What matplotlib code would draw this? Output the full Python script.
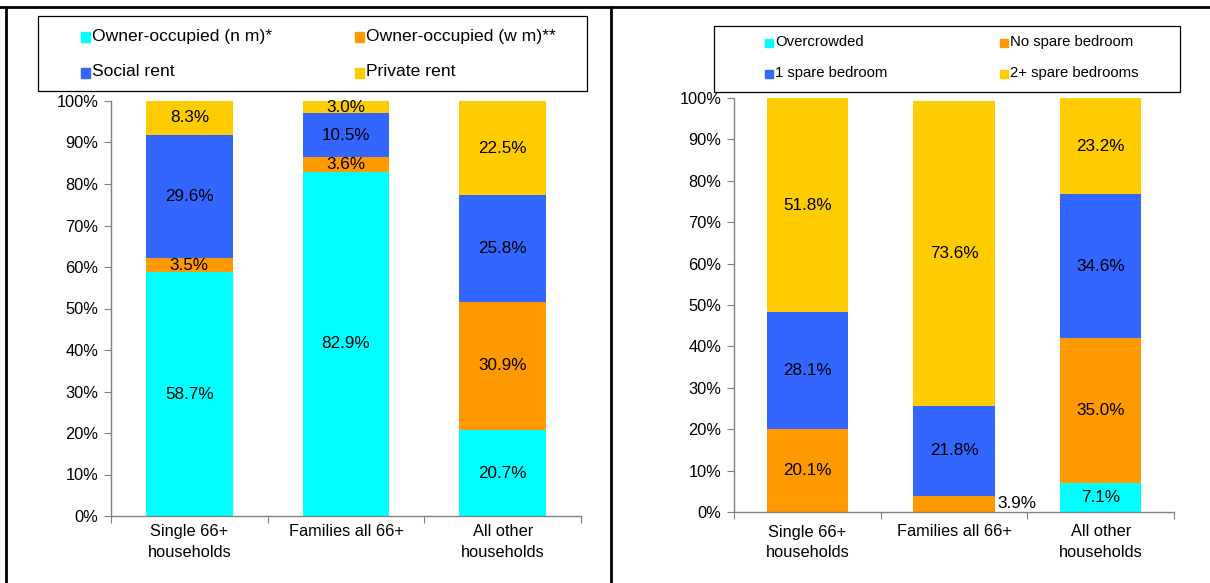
import matplotlib.pyplot as plt
import numpy as np
from matplotlib.patches import Rectangle
from matplotlib.lines import Line2D

plt.rcParams['font.family'] = ['Liberation Sans', 'DejaVu Sans']

# data
categories = ['Single 66+\nhouseholds', 'Families all 66+', 'All other\nhouseholds']

tenure_labels = ['Owner-occupied (n m)*', 'Owner-occupied (w m)**', 'Social rent', 'Private rent']
owner_nm = [58.7, 82.9, 20.7]
owner_wm = [3.5, 3.6, 30.9]
social_rent = [29.6, 10.5, 25.8]
private_rent = [8.3, 3.0, 22.5]

bedroom_labels = ['Overcrowded', 'No spare bedroom', '1 spare bedroom', '2+ spare bedrooms']
overcrowded = [0.0, 0.0, 7.1]
no_spare = [20.1, 3.9, 35.0]
one_spare = [28.1, 21.8, 34.6]
two_plus = [51.8, 73.6, 23.2]

colors = ['#00FFFF', '#FF9900', '#3366FF', '#FFCC00']

W, H = 1210, 583
fig = plt.figure(figsize=(W / 100, H / 100), dpi=100)


def fx(px):
    return px / W


def fy(py):
    return 1 - py / H


def stacked(ax, series, outside=None, xpad=6):
    x = np.arange(len(categories))
    bottom = np.zeros(len(categories))
    for vals, c in zip(series, colors):
        vals = np.array(vals)
        ax.bar(x, vals, 0.555, bottom=bottom, color=c, zorder=2)
        for i, v in enumerate(vals):
            if v <= 0:
                continue
            y = bottom[i] + v / 2
            if outside is not None and (i, v) == outside:
                ax.text(x[i] + 0.555 / 2 + 0.02, y, f'{v:.1f}%', ha='left', va='center', fontsize=12.3)
            else:
                ax.text(x[i], y, f'{v:.1f}%', ha='center', va='center', fontsize=12.3)
        bottom += vals
    ax.set_xlim(-0.5, 2.5)
    ax.set_ylim(0, 100)
    ax.set_yticks(np.arange(0, 101, 10))
    ax.set_yticklabels([f'{t}%' for t in range(0, 101, 10)], fontsize=11.8)
    ax.set_xticks([-0.5, 0.5, 1.5, 2.5])
    ax.set_xticklabels([])
    ax.set_xticks(x, minor=True)
    ax.set_xticklabels(categories, minor=True, fontsize=11.8, linespacing=1.45)
    ax.tick_params(axis='x', which='minor', length=0, pad=xpad)
    ax.tick_params(axis='x', which='major', length=5, color='#808080', direction='out')
    ax.tick_params(axis='y', length=5, color='#808080', pad=4)
    for s in ['top', 'right']:
        ax.spines[s].set_visible(False)
    for s in ['left', 'bottom']:
        ax.spines[s].set_color('#808080')
        ax.spines[s].set_linewidth(1.0)


ax1 = fig.add_axes([fx(111), fy(516), fx(581 - 111), (516 - 101) / H])
stacked(ax1, [owner_nm, owner_wm, social_rent, private_rent])

ax2 = fig.add_axes([fx(734), fy(512), fx(1174 - 734), (512 - 98) / H])
stacked(ax2, [overcrowded, no_spare, one_spare, two_plus], outside=(1, 3.9), xpad=9)


def legend_box(x0, y0, x1, y1, labels, cols_x, rows_y, fs, msize):
    fig.patches.append(Rectangle((fx(x0), fy(y1)), fx(x1 - x0), (y1 - y0) / H,
                                 transform=fig.transFigure, fill=False,
                                 edgecolor='black', linewidth=0.9))
    for k, (lab, c) in enumerate(zip(labels, colors)):
        cx = cols_x[k % 2]
        cy = rows_y[k // 2]
        fig.patches.append(Rectangle((fx(cx - msize - 2), fy(cy + msize / 2 + 1)), fx(msize), msize / H,
                                     transform=fig.transFigure, color=c))
        fig.text(fx(cx), fy(cy), lab, ha='left', va='center', fontsize=fs)


legend_box(38, 16, 587, 91, tenure_labels, [92, 366], [36, 72], 12.6, 9)
legend_box(714, 26, 1180, 92, bedroom_labels, [775, 1010], [42, 73], 10.7, 8)

# table-like borders
fig.add_artist(Line2D([0, 1], [fy(7), fy(7)], color='black', linewidth=2))
fig.add_artist(Line2D([fx(6), fx(6)], [0, fy(7)], color='black', linewidth=2))
fig.add_artist(Line2D([fx(611), fx(611)], [0, fy(7)], color='black', linewidth=2))

fig.savefig('out.png', dpi=100)
